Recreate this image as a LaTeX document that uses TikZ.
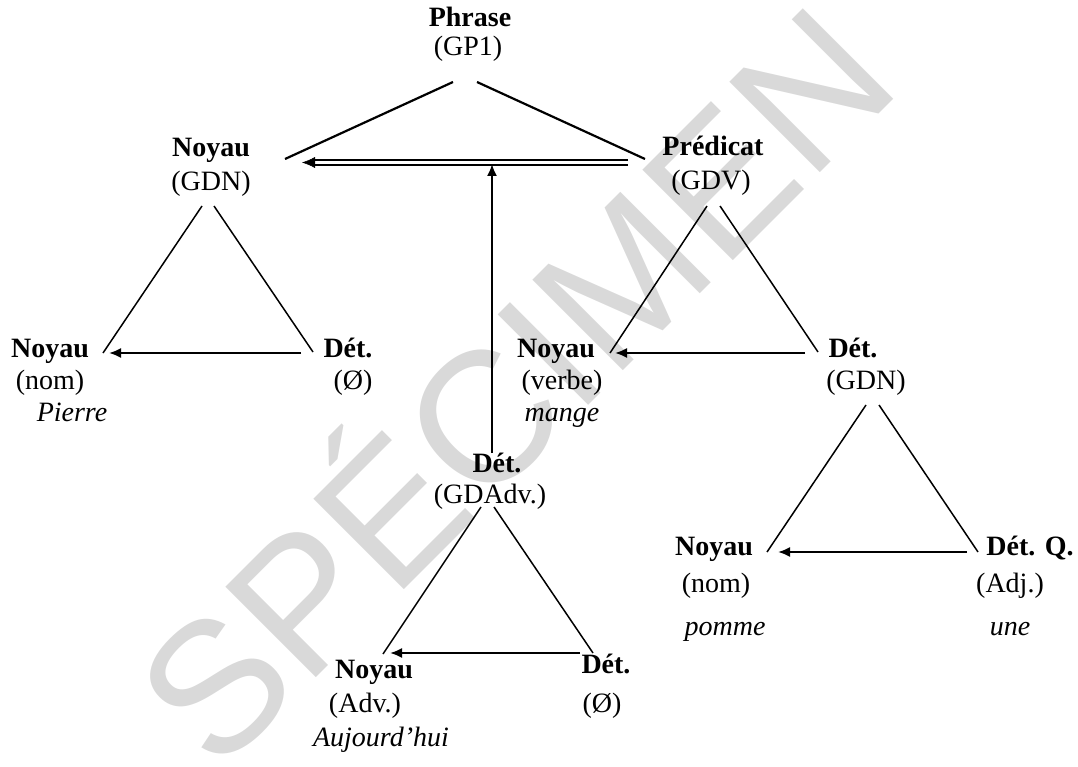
\documentclass[tikz,border=0pt]{standalone}
\usepackage{fontspec}
\setmainfont{Liberation Serif}
\newfontfamily\wmfont{Liberation Sans}
\usetikzlibrary{arrows.meta}
\tikzset{
  lbl/.style={anchor=base, inner sep=0pt, font=\fontsize{28}{32}\selectfont},
  bl/.style={anchor=base, inner sep=0pt, font=\fontsize{28}{32}\selectfont\bfseries},
  itl/.style={anchor=base, inner sep=0pt, font=\fontsize{28}{32}\selectfont\itshape},
  tri/.style={line width=1.5pt},
  topl/.style={line width=2.2pt},
  arr/.style={line width=1.9pt, -{Latex[length=12pt,width=10pt]}},
  dbl/.style={line width=1.5pt},
  wm/.style={rotate=45, inner sep=0pt, text=black!15, font=\wmfont\fontsize{186}{186}\selectfont}
}
\begin{document}
\begin{tikzpicture}[x=1pt,y=-1pt]
\useasboundingbox (0,0) rectangle (1078,767);
% watermark
\node[wm] (wmk) at (505,376) {SPÉCIMEN};

% top
\node[bl] (phrase) at (470,27) {Phrase};
\node[lbl] (gp1) at (468,56) {(GP1)};
\node[bl] (noyauA) at (211,157) {Noyau};
\node[lbl] (gdnA) at (211,191) {(GDN)};
\node[bl] (pred) at (713,156) {Prédicat};
\node[lbl] (gdv) at (711,190) {(GDV)};

\coordinate (pL) at (453,82);
\coordinate (pR) at (477,82);
\coordinate (nA) at (285,159);
\coordinate (prA) at (645,159);
\draw[topl] (pL) -- (nA);
\draw[topl] (pR) -- (prA);

% double arrow
\coordinate (dR) at (628,162.5);
\coordinate (dL) at (302,162.5);
\coordinate (dT) at (314,162.5);
\draw[dbl] ([yshift=2.3pt]dR) -- ([yshift=2.3pt]dT);
\draw[dbl] ([yshift=-2.3pt]dR) -- ([yshift=-2.3pt]dT);
\draw[line width=0.5pt, -{Latex[length=13pt,width=11pt]}] (dT) -- (dL);

% left triangle
\node[bl] (noyauB) at (50,357) {Noyau};
\node[lbl] (nomB) at (50,389) {(nom)};
\node[itl] (pierre) at (72,421) {Pierre};
\node[bl] (detB) at (348,357) {Dét.};
\node[lbl] (zeroB) at (353,389) {(Ø)};
\coordinate (a1) at (202,206);
\coordinate (a2) at (214,206);
\coordinate (b1) at (103,353);
\coordinate (b2) at (313,352);
\draw[tri] (a1) -- (b1);
\draw[tri] (a2) -- (b2);
\coordinate (s1) at (301,353);
\coordinate (e1) at (109,353);
\draw[arr] (s1) -- (e1);

% predicate triangle
\node[bl] (noyauC) at (556,357) {Noyau};
\node[lbl] (verbe) at (562,389) {(verbe)};
\node[itl] (mange) at (562,421) {mange};
\node[bl] (detC) at (853,357) {Dét.};
\node[lbl] (gdnC) at (866,389) {(GDN)};
\coordinate (c1) at (707,206);
\coordinate (c2) at (720,206);
\coordinate (d1) at (610,353);
\coordinate (d2) at (818,352);
\draw[tri] (c1) -- (d1);
\draw[tri] (c2) -- (d2);
\coordinate (s2) at (805,353);
\coordinate (e2) at (615,353);
\draw[arr] (s2) -- (e2);

% GDAdv
\node[bl] (detD) at (497,472) {Dét.};
\node[lbl] (gdadv) at (490,503) {(GDAdv.)};
\coordinate (vb) at (492,453);
\coordinate (vt) at (492,164);
\draw[arr] (vb) -- (vt);

% lower right triangle
\node[bl] (noyauE) at (714,555) {Noyau};
\node[lbl] (nomE) at (716,592) {(nom)};
\node[itl] (pomme) at (725,635) {pomme};
\node[bl] (detE) at (1030,555) {Dét. Q.};
\node[lbl] (adj) at (1010,592) {(Adj.)};
\node[itl] (une) at (1010,635) {une};
\coordinate (f1) at (866,405);
\coordinate (f2) at (879,405);
\coordinate (g1) at (767,552);
\coordinate (g2) at (978,552);
\draw[tri] (f1) -- (g1);
\draw[tri] (f2) -- (g2);
\coordinate (s3) at (967,552);
\coordinate (e3) at (778,552);
\draw[arr] (s3) -- (e3);

% bottom triangle
\node[bl] (noyauF) at (374,678) {Noyau};
\node[lbl] (adv) at (365,712) {(Adv.)};
\node[itl] (auj) at (381,746) {Aujourd’hui};
\node[bl] (detF) at (606,673) {Dét.};
\node[lbl] (zeroF) at (602,712) {(Ø)};
\coordinate (h1) at (481,507);
\coordinate (h2) at (494,507);
\coordinate (k1) at (383,654);
\coordinate (k2) at (593,653);
\draw[tri] (h1) -- (k1);
\draw[tri] (h2) -- (k2);
\coordinate (s4) at (580,653);
\coordinate (e4) at (390,653);
\draw[arr] (s4) -- (e4);
\end{tikzpicture}
\end{document}
